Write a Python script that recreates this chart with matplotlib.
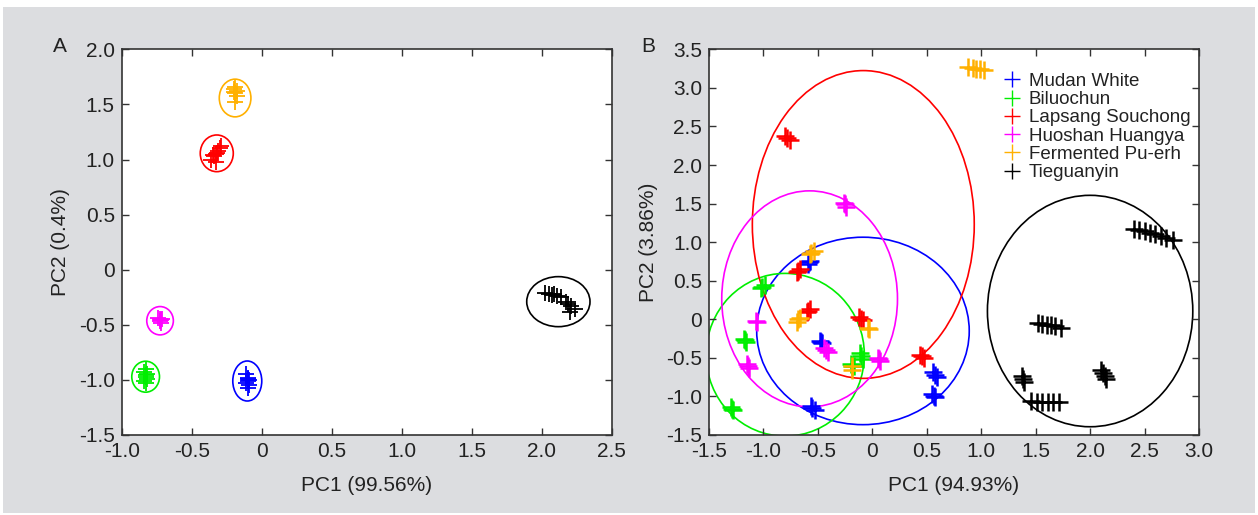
import matplotlib
matplotlib.use("Agg")
import matplotlib.pyplot as plt
from matplotlib import font_manager
from matplotlib.patches import Ellipse, Rectangle
from matplotlib.ticker import FuncFormatter

# 数据：A 图（两个主成分）
tea_names = ["Mudan White", "Biluochun", "Lapsang Souchong",
             "Huoshan Huangya", "Fermented Pu-erh", "Tieguanyin"]
tea_colors = ["#0000ff", "#00ee00", "#ff0000", "#ff00ff", "#ffb000", "#000000"]

a_mudan_x = [-0.11, -0.10, -0.09, -0.10, -0.11, -0.09, -0.10, -0.10]
a_mudan_y = [-0.95, -0.98, -1.00, -1.01, -1.03, -1.05, -1.07, -0.99]
a_bilu_x = [-0.83, -0.84, -0.82, -0.83, -0.82, -0.84, -0.83, -0.83]
a_bilu_y = [-0.90, -0.93, -0.95, -0.97, -0.99, -1.01, -1.03, -0.96]
a_lap_x = [-0.36, -0.34, -0.33, -0.32, -0.31, -0.30, -0.29, -0.33, -0.35]
a_lap_y = [1.00, 1.03, 1.05, 1.06, 1.08, 1.10, 1.12, 0.98, 1.04]
a_huo_x = [-0.74, -0.73, -0.72, -0.73, -0.72, -0.71]
a_huo_y = [-0.44, -0.45, -0.46, -0.47, -0.48, -0.45]
a_pu_x = [-0.19, -0.20, -0.18, -0.19, -0.18, -0.20, -0.19]
a_pu_y = [1.66, 1.64, 1.62, 1.60, 1.58, 1.61, 1.52]
a_tie_x = [2.02, 2.05, 2.07, 2.09, 2.11, 2.14, 2.17, 2.19, 2.21, 2.24, 2.20]
a_tie_y = [-0.21, -0.22, -0.23, -0.22, -0.24, -0.25, -0.29, -0.31, -0.33, -0.36, -0.38]

# 置信椭圆 (cx, cy, w, h)
a_ellipses = [(-0.103, -1.01, 0.207, 0.363),
              (-0.829, -0.971, 0.198, 0.281),
              (-0.321, 1.056, 0.236, 0.333),
              (-0.726, -0.463, 0.19, 0.257),
              (-0.19, 1.558, 0.226, 0.342),
              (2.119, -0.29, 0.452, 0.454)]

# 数据：B 图
b_mudan_x = [-0.59, -0.58, -0.57, -0.48, -0.47, -0.46, 0.56, 0.58, 0.59,
             0.55, 0.57, 0.58, -0.56, -0.55, -0.53]
b_mudan_y = [0.72, 0.74, 0.76, -0.28, -0.30, -0.31, -0.68, -0.72, -0.75,
             -0.97, -0.99, -1.01, -1.13, -1.15, -1.17]
b_bilu_x = [-1.02, -1.01, -0.99, -1.18, -1.17, -1.16, -0.11, -0.10, -0.09,
            -0.20, -0.19, -0.17, -1.30, -1.29, -1.28]
b_bilu_y = [0.40, 0.42, 0.44, -0.25, -0.27, -0.29, -0.44, -0.48, -0.51,
            -0.58, -0.60, -0.61, -1.14, -1.16, -1.17]
b_lap_x = [-0.80, -0.78, -0.76, -0.69, -0.68, -0.66, -0.60, -0.59, -0.57,
           -0.12, -0.10, -0.09, 0.44, 0.46, 0.47]
b_lap_y = [2.37, 2.35, 2.32, 0.61, 0.63, 0.65, 0.09, 0.11, 0.13,
           0.03, 0.01, -0.01, -0.46, -0.48, -0.50]
b_huo_x = [-0.26, -0.25, -0.24, -1.07, -1.06, -0.44, -0.43, -0.41,
           0.05, 0.06, 0.07, -1.15, -1.14, -1.13]
b_huo_y = [1.51, 1.49, 1.46, -0.02, -0.03, -0.37, -0.40, -0.42,
           -0.50, -0.52, -0.54, -0.58, -0.60, -0.63]
b_pu_x = [-0.57, -0.56, -0.54, -0.69, -0.68, -0.66, -0.04, -0.03,
          -0.19, -0.19, 0.88, 0.92, 0.95, 0.99, 1.03]
b_pu_y = [0.84, 0.86, 0.89, -0.03, 0.00, 0.02, -0.11, -0.13,
          -0.60, -0.66, 3.27, 3.26, 3.25, 3.24, 3.23]
b_tie_x = [2.40, 2.45, 2.50, 2.55, 2.60, 2.65, 2.70, 2.76,
           1.52, 1.56, 1.60, 1.64, 1.68, 1.73,
           1.37, 1.38, 1.39,
           1.46, 1.51, 1.56, 1.61, 1.66, 1.71,
           2.10, 2.12, 2.14, 2.15]
b_tie_y = [1.17, 1.16, 1.14, 1.12, 1.10, 1.08, 1.06, 1.03,
           -0.05, -0.06, -0.07, -0.08, -0.09, -0.11,
           -0.74, -0.77, -0.81,
           -1.06, -1.07, -1.07, -1.07, -1.07, -1.07,
           -0.66, -0.70, -0.74, -0.78]

b_ellipses = [(-0.086, -0.151, 1.952, 2.43),
              (-0.80, -0.46, 1.453, 2.11),
              (-0.083, 1.229, 2.038, 3.99),
              (-0.576, 0.265, 1.614, 2.80),
              None,
              (2.0, 0.107, 1.886, 3.0)]

a_points = [(a_mudan_x, a_mudan_y), (a_bilu_x, a_bilu_y), (a_lap_x, a_lap_y),
            (a_huo_x, a_huo_y), (a_pu_x, a_pu_y), (a_tie_x, a_tie_y)]
b_points = [(b_mudan_x, b_mudan_y), (b_bilu_x, b_bilu_y), (b_lap_x, b_lap_y),
            (b_huo_x, b_huo_y), (b_pu_x, b_pu_y), (b_tie_x, b_tie_y)]

# 字体
names = {f.name for f in font_manager.fontManager.ttflist}
fam = "Liberation Sans Narrow" if "Liberation Sans Narrow" in names else "Liberation Sans"
plt.rcParams["font.family"] = [fam, "DejaVu Sans"]
plt.rcParams["axes.unicode_minus"] = False

TXT = "#222222"
fig = plt.figure(figsize=(12.58, 5.15), dpi=100)
fig.patches.append(Rectangle((3 / 1258, 2 / 515), 1252 / 1258, 506 / 515,
                             transform=fig.transFigure, facecolor="#dcdde0",
                             edgecolor="none", zorder=-10))

axA = fig.add_axes([121.7 / 1258, 80 / 515, 490 / 1258, 385.7 / 515])
axB = fig.add_axes([709 / 1258, 80 / 515, 490 / 1258, 385.7 / 515])


def fmt(v, _):
    return "0" if abs(v) < 1e-9 else f"{v:.1f}"


def style_axes(ax):
    ax.tick_params(direction="in", top=True, right=True, length=5, width=1,
                   colors="#333333", labelcolor=TXT, labelsize=15, pad=5)
    for s in ax.spines.values():
        s.set_color("#333333")
        s.set_linewidth(1.2)
    ax.xaxis.set_major_formatter(FuncFormatter(fmt))
    ax.yaxis.set_major_formatter(FuncFormatter(fmt))


# A 图
for (xs, ys), c, e in zip(a_points, tea_colors, a_ellipses):
    axA.plot(xs, ys, "+", color=c, ms=11, mew=1.3, linestyle="none")
    axA.add_patch(Ellipse((e[0], e[1]), e[2], e[3], fill=False, edgecolor=c, lw=1.2))
axA.set_xlim(-1.0, 2.5)
axA.set_ylim(-1.5, 2.0)
axA.set_xticks([-1.0, -0.5, 0, 0.5, 1.0, 1.5, 2.0, 2.5])
axA.set_yticks([-1.5, -1.0, -0.5, 0, 0.5, 1.0, 1.5, 2.0])
style_axes(axA)
axA.set_xlabel("PC1 (99.56%)", fontsize=15, color=TXT, labelpad=11)
axA.set_ylabel("PC2 (0.4%)", fontsize=15, color=TXT, labelpad=6)
fig.text(60 / 1258, 1 - 47 / 515, "A", fontsize=15, color=TXT, ha="center", va="center")

# B 图
for (xs, ys), c, e, n in zip(b_points, tea_colors, b_ellipses, tea_names):
    axB.plot(xs, ys, "+", color=c, ms=13, mew=1.8, linestyle="none", label=n)
    if e is not None:
        axB.add_patch(Ellipse((e[0], e[1]), e[2], e[3], fill=False, edgecolor=c, lw=1.2))
axB.set_xlim(-1.5, 3.0)
axB.set_ylim(-1.5, 3.5)
axB.set_xticks([-1.5, -1.0, -0.5, 0, 0.5, 1.0, 1.5, 2.0, 2.5, 3.0])
axB.set_yticks([-1.5, -1.0, -0.5, 0, 0.5, 1.0, 1.5, 2.0, 2.5, 3.0, 3.5])
style_axes(axB)
axB.set_xlabel("PC1 (94.93%)", fontsize=15, color=TXT, labelpad=11)
axB.set_ylabel("PC2 (3.86%)", fontsize=15, color=TXT, labelpad=6)
fig.text(648 / 1258, 1 - 47 / 515, "B", fontsize=15, color=TXT, ha="center", va="center")

leg = axB.legend(loc="upper left", bbox_to_anchor=(0.601, 0.939), frameon=False,
                 fontsize=13.5, handlelength=0.9, handletextpad=0.45,
                 labelspacing=0.06, borderaxespad=0, borderpad=0)
for h in leg.legend_handles:
    h.set_markersize(12)
    h.set_markeredgewidth(1.0)
for t in leg.get_texts():
    t.set_color(TXT)

fig.savefig("out.png", dpi=100, facecolor="white")
